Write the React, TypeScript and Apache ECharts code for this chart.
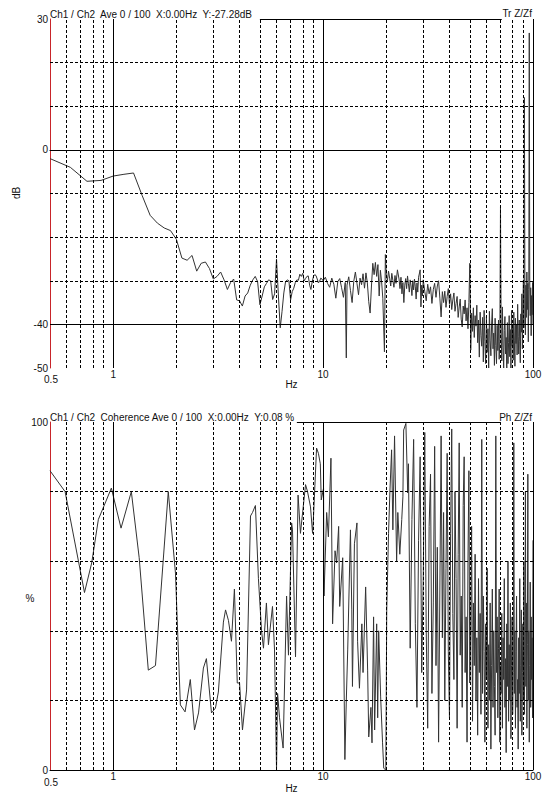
import React, { useEffect, useRef } from "react";
import * as echarts from "echarts";

// ---------- axis ticks / grid values ----------
const freqMajor = [1, 10, 100];
const freqMinor = [0.6, 0.7, 0.8, 0.9, 2, 3, 4, 5, 6, 7, 8, 9, 20, 30, 40, 50, 60, 70, 80, 90];
const dbLabelValues = [30, 0, -40, -50];
const dbSolidLines = [0, -40];
const dbDashedLines = [20, 10, -10, -20, -30];
const pctLabelValues = [100, 0];
const pctDashedLines = [80, 60, 40, 20];
const topBorderTransfer = [5, 71];
const topBorderCoherence = [7.5, 70];

const titleTransfer = "Ch1 / Ch2  Ave 0 / 100  X:0.00Hz  Y:-27.28dB";
const titleCoherence = "Ch1 / Ch2  Coherence Ave 0 / 100  X:0.00Hz  Y:0.08 %";

// ---------- transfer function magnitude [Hz, dB] ----------
const transfer: [number, number][] = [
  [0.5, -2.0], [0.625, -4.0], [0.75, -7.2], [0.875, -7.0], [1.0, -6.0], [1.125, -5.6], [1.25, -5.3],
  [1.375, -10.5], [1.5, -15.0], [1.625, -16.8], [1.75, -17.9], [1.875, -18.5], [2.0, -20.5],
  [2.125, -24.8], [2.25, -25.3], [2.375, -24.2], [2.5, -27.8], [2.625, -26.0], [2.75, -25.7],
  [2.875, -27.2], [3.0, -29.6], [3.125, -29.0], [3.25, -28.0], [3.375, -29.8], [3.5, -32.0],
  [3.625, -30.4], [3.75, -29.6], [3.875, -34.4], [4.0, -34.6], [4.125, -35.8], [4.25, -33.5],
  [4.375, -32.8], [4.5, -31.0], [4.625, -29.8], [4.75, -29.0], [4.875, -30.2], [5.0, -35.5],
  [5.125, -33.5], [5.25, -31.4], [5.375, -30.6], [5.5, -29.8], [5.625, -30.0], [5.75, -34.3],
  [5.875, -33.0], [6.0, -25.0], [6.125, -33.5], [6.25, -40.8], [6.375, -37.0], [6.5, -32.8],
  [6.625, -30.2], [6.75, -29.8], [6.875, -30.0], [7.0, -34.4], [7.125, -32.5], [7.25, -31.7],
  [7.375, -30.4], [7.5, -29.8], [7.625, -29.9], [7.75, -28.5], [7.875, -29.0], [8.0, -28.3],
  [8.125, -30.0], [8.25, -29.5], [8.375, -29.0], [8.5, -28.9], [8.625, -31.0], [8.75, -32.0],
  [8.875, -30.2], [9.0, -29.0], [9.125, -28.6], [9.25, -28.8], [9.375, -29.6], [9.5, -30.5],
  [9.625, -30.1], [9.75, -29.4], [9.875, -29.6], [10.0, -30.0], [10.25, -29.2], [10.5, -30.6],
  [10.75, -31.5], [11.0, -29.4], [11.25, -30.8], [11.5, -34.0], [11.75, -30.2], [12.0, -29.5],
  [12.25, -31.6], [12.5, -33.8], [12.75, -30.4], [12.9, -47.7], [13.0, -31.0], [13.25, -29.1],
  [13.5, -32.2], [13.75, -35.0], [14.0, -30.1], [14.25, -28.0], [14.5, -30.6], [14.75, -33.2],
  [15.0, -29.4], [15.25, -30.9], [15.5, -28.4], [15.75, -31.7], [16.0, -28.2], [16.25, -30.5],
  [16.5, -34.8], [16.75, -37.4], [17.0, -31.2], [17.25, -26.0], [17.5, -28.6], [17.75, -25.8],
  [18.0, -29.0], [18.25, -26.3], [18.5, -33.5], [18.75, -27.6], [19.0, -30.2], [19.25, -34.0],
  [19.6, -46.3], [19.8, -24.0], [20.0, -28.5], [20.25, -30.0], [20.5, -27.8], [20.75, -29.4],
  [21.0, -31.2], [21.25, -28.3], [21.5, -29.9], [21.75, -31.5], [22.0, -28.8], [22.25, -30.6],
  [22.6, -27.5], [23.0, -29.6], [23.25, -31.8], [23.5, -29.2], [23.75, -33.0], [24.0, -30.4],
  [24.25, -35.0], [24.5, -31.0], [24.75, -29.5], [25.0, -31.8], [25.25, -28.9], [25.5, -30.7],
  [25.75, -32.6], [26.0, -29.8], [26.25, -31.2], [26.5, -33.4], [26.75, -30.0], [27.0, -32.1],
  [27.25, -29.6], [27.5, -31.4], [27.75, -34.2], [28.0, -30.5], [28.25, -32.6], [28.5, -29.2],
  [29.0, -27.5], [29.25, -36.0], [29.5, -31.0], [29.75, -33.5], [30.0, -29.8], [30.5, -32.4],
  [31.0, -34.6], [31.5, -30.8], [32.0, -33.0], [32.5, -31.4], [33.0, -35.2], [33.5, -32.0],
  [34.0, -30.6], [34.5, -33.8], [35.0, -31.2], [35.5, -30.0], [36.0, -34.0], [36.5, -38.3],
  [37.0, -32.5], [37.5, -35.0], [38.0, -32.4], [38.5, -36.1], [39.0, -33.6], [39.5, -31.8],
  [40.0, -35.4], [40.5, -33.0], [41.0, -36.6], [41.5, -34.4], [42.0, -32.8], [42.5, -37.0],
  [43.0, -35.2], [43.5, -33.6], [44.0, -38.4], [44.5, -36.0], [45.0, -34.2], [45.5, -38.8],
  [46.0, -40.6], [46.5, -35.8], [47.0, -37.6], [47.5, -34.4], [48.0, -39.2], [48.5, -36.2],
  [49.0, -41.0], [49.5, -35.0], [50.0, -26.0], [50.5, -45.9], [51.0, -37.4], [51.5, -41.6],
  [52.0, -36.2], [52.5, -43.0], [53.0, -38.0], [53.5, -40.4], [54.0, -35.6], [54.5, -44.2],
  [55.0, -39.0], [55.5, -47.5], [56.0, -37.2], [56.5, -42.6], [57.0, -45.0], [57.5, -38.4],
  [58.0, -48.6], [58.5, -36.8], [59.0, -44.0], [59.5, -49.0], [60.0, -38.2], [60.5, -46.4],
  [61.0, -41.0], [61.5, -50.0], [62.0, -37.0], [62.5, -43.8], [63.0, -47.2], [63.5, -40.0],
  [64.0, -36.4], [64.5, -45.6], [65.0, -42.0], [65.5, -49.4], [66.0, -38.6], [66.5, -44.8],
  [67.0, -49.0], [67.5, -40.2], [68.0, -46.0], [68.5, -39.0], [69.0, -48.0], [69.5, -44.0],
  [70.0, -13.0], [70.5, -42.0], [71.0, -48.4], [71.5, -36.0], [72.0, -45.2], [72.5, -50.0],
  [73.0, -41.4], [73.5, -38.2], [74.0, -46.8], [74.5, -43.0], [75.0, -50.0], [75.5, -39.6],
  [76.0, -49.0], [76.5, -44.2], [77.0, -38.0], [77.5, -47.4], [78.0, -41.2], [78.5, -50.0],
  [79.0, -36.8], [79.5, -45.0], [80.0, -40.4], [80.5, -48.2], [81.0, -37.2], [81.5, -43.6],
  [82.0, -49.6], [82.5, -38.6], [83.0, -44.4], [83.5, -40.0], [84.0, -47.0], [84.5, -35.4],
  [85.0, -42.8], [85.5, -46.8], [86.0, -39.0], [86.5, -44.0], [87.0, -48.8], [87.5, -37.6],
  [88.0, -41.8], [88.5, -33.0], [89.0, -45.6], [89.5, -36.0], [90.0, -30.0], [90.5, -40.8],
  [91.0, 12.0], [91.5, -34.0], [92.0, -42.4], [92.5, -31.0], [93.0, -38.4], [93.5, -28.0],
  [94.0, -36.6], [94.5, -30.6], [95.0, -44.0], [95.5, -32.0], [96.0, 26.8], [96.5, -30.0],
  [97.0, -38.0], [97.5, -31.6], [98.0, -42.6], [98.5, -33.4], [99.0, -37.8], [99.5, -30.4],
  [100.0, -40.0],
];

// ---------- coherence [Hz, %] ----------
const coherence: [number, number][] = [
  [0.5, 86], [0.59, 80], [0.73, 51], [0.79, 59.5], [0.85, 72], [0.9, 75.6], [0.98, 81],
  [1.09, 69.5], [1.22, 80], [1.33, 61], [1.47, 28.7], [1.59, 30], [1.83, 80], [1.98, 56.6],
  [2.09, 18.7], [2.2, 16.7], [2.33, 26], [2.44, 11.5], [2.55, 16.4], [2.69, 29.3], [2.78, 32],
  [2.94, 16.4], [3.07, 17.8], [3.17, 22.4], [3.35, 42.5], [3.43, 46], [3.54, 43], [3.66, 37],
  [3.78, 52], [3.9, 25], [4.0, 25], [4.13, 11.5], [4.32, 23], [4.51, 73], [4.61, 74], [4.76, 76],
  [4.92, 55], [5.09, 40], [5.2, 35], [5.37, 48], [5.49, 36], [5.74, 47], [5.87, 34.5], [6.0, 0],
  [6.07, 22], [6.2, 15], [6.45, 6.3], [6.7, 50], [6.84, 33], [7.08, 71], [7.15, 69], [7.39, 32.5],
  [7.6, 79], [7.8, 68], [8.25, 82], [8.43, 80], [8.71, 75.6], [8.91, 68], [9.0, 72.7], [9.31, 92.5],
  [9.5, 91], [9.7, 88], [9.8, 77.6], [10.05, 81], [10.1, 50], [10.4, 74], [10.6, 67], [10.9, 89.6],
  [11.1, 42], [11.4, 63], [11.6, 59.5], [11.86, 70], [12.0, 47], [12.4, 61], [12.7, 3], [12.9, 20],
  [13.1, 34.5], [13.5, 69], [13.7, 46], [13.8, 24], [14.1, 65], [14.5, 71], [14.6, 37], [14.9, 23.5],
  [15.3, 42], [15.5, 28], [15.95, 52.6], [16.3, 28.7], [16.5, 9.5], [16.9, 18], [17.1, 7.8],
  [17.4, 44], [17.6, 11.5], [18.0, 42], [18.2, 15], [18.4, 40], [18.8, 21], [19.2, 7.8],
  [19.45, 0.5], [19.9, 0], [20.1, 46], [20.5, 68], [20.8, 79.6], [21.2, 92], [21.5, 69], [21.9, 96],
  [22.4, 60], [22.7, 74], [23.2, 62], [23.7, 72], [24.0, 78.5], [24.2, 97.7], [24.8, 99.6],
  [25.3, 79.6], [25.5, 88], [26.0, 35], [26.5, 72], [27.0, 95], [27.5, 42], [28.0, 18], [28.5, 66],
  [29.0, 90], [29.5, 28], [30.0, 55], [30.5, 97], [31.0, 40], [31.5, 12], [32.0, 70], [32.5, 85],
  [33.0, 22], [33.5, 48], [34.0, 93], [34.5, 30], [35.0, 64], [35.5, 8], [36.0, 52], [36.5, 96],
  [37.0, 38], [37.5, 74], [38.0, 20], [38.5, 58], [39.0, 91], [39.5, 34], [40.0, 15], [40.5, 68],
  [41.0, 98], [41.5, 45], [42.0, 26], [42.5, 80], [43.0, 55], [43.5, 12], [44.0, 62], [44.5, 94],
  [45.0, 33], [45.5, 50], [46.0, 18], [46.5, 76], [47.0, 90], [47.5, 28], [48.0, 44], [48.5, 8],
  [49.0, 60], [49.5, 86], [50.0, 25], [50.5, 40], [51.0, 70], [51.5, 14], [52.0, 48], [52.5, 30],
  [53.0, 62], [53.5, 20], [54.0, 38], [54.5, 10], [55.0, 55], [55.5, 28], [56.0, 45], [56.5, 16],
  [57.0, 95], [57.5, 22], [58.0, 50], [58.5, 34], [59.0, 8], [59.5, 42], [60.0, 26], [60.5, 58],
  [61.0, 12], [61.5, 36], [62.0, 20], [62.5, 48], [63.0, 6], [63.5, 30], [64.0, 52], [64.5, 18],
  [65.0, 40], [65.5, 24], [66.0, 10], [66.5, 96], [67.0, 28], [67.5, 44], [68.0, 15], [68.5, 35],
  [69.0, 52], [69.5, 8], [70.0, 30], [70.5, 22], [71.0, 45], [71.5, 12], [72.0, 38], [72.5, 26],
  [73.0, 55], [73.5, 18], [74.0, 32], [74.5, 5], [75.0, 42], [75.5, 24], [76.0, 60], [76.5, 14],
  [77.0, 36], [77.5, 20], [78.0, 48], [78.5, 9], [79.0, 30], [79.5, 44], [80.0, 16], [80.5, 28],
  [81.0, 94], [81.5, 22], [82.0, 40], [82.5, 12], [83.0, 34], [83.5, 50], [84.0, 18], [84.5, 26],
  [85.0, 6], [85.5, 38], [86.0, 22], [86.5, 55], [87.0, 14], [87.5, 30], [88.0, 46], [88.5, 10],
  [89.0, 28], [89.5, 42], [90.0, 20], [90.5, 60], [91.0, 16], [91.5, 35], [92.0, 80], [92.5, 24],
  [93.0, 48], [93.5, 12], [94.0, 36], [94.5, 85], [95.0, 20], [95.5, 40], [96.0, 8], [96.5, 30],
  [97.0, 54], [97.5, 18], [98.0, 44], [98.5, 26], [99.0, 38], [99.5, 15], [100.0, 66],
];

const FONT = '"Liberation Sans", Arial, sans-serif';
const INK = "#111";

function gridMarkLine(dashedH: number[], solidH: number[], topVal: number, border: number[]) {
  const solid = { type: "solid" as const };
  const data: any[] = [
    ...freqMinor.map((f) => ({ xAxis: f })),
    ...freqMajor.map((f) => ({ xAxis: f, lineStyle: solid })),
    ...dashedH.map((v) => ({ yAxis: v })),
    ...solidH.map((v) => ({ yAxis: v, lineStyle: solid })),
    [
      { coord: [border[0], topVal], lineStyle: solid },
      { coord: [border[1], topVal], lineStyle: solid },
    ],
  ];
  return {
    silent: true,
    symbol: ["none", "none"],
    label: { show: false },
    emphasis: { disabled: true },
    lineStyle: { color: "#000", width: 1, type: [3, 2], opacity: 1 },
    data,
  };
}

function xAxisFor(gridIndex: number, nameGap: number) {
  return {
    type: "log",
    logBase: 10,
    gridIndex,
    min: 0.5,
    max: 100,
    name: "Hz",
    nameLocation: "middle",
    nameGap,
    nameTextStyle: { fontSize: 10, fontFamily: FONT, color: INK },
    axisLine: { show: true, lineStyle: { color: "#000", width: 1 } },
    axisTick: { show: false },
    splitLine: { show: false },
    minorSplitLine: { show: false },
    axisLabel: {
      fontSize: 10,
      fontFamily: FONT,
      color: INK,
      margin: 1,
      showMinLabel: false,
      formatter: (v: number) => {
        const r = Math.round(v);
        return freqMajor.includes(r) && Math.abs(v - r) < 1e-6 ? String(r) : "";
      },
    },
  };
}

function yAxisFor(gridIndex: number, min: number, max: number, interval: number, labels: number[]) {
  return {
    type: "value",
    gridIndex,
    min,
    max,
    interval,
    axisLine: { show: true, lineStyle: { color: "#c8252a", width: 1 } },
    axisTick: { show: false },
    splitLine: { show: false },
    axisLabel: {
      fontSize: 10,
      fontFamily: FONT,
      color: INK,
      margin: 2,
      formatter: (v: number) => (labels.includes(v) ? String(v) : ""),
    },
  };
}

const txt = (x: number, y: number, text: string, align = "left", extra: any = {}) => ({
  type: "text",
  x,
  y,
  z: 100,
  silent: true,
  ...extra,
  style: {
    text,
    fontSize: 10,
    fontFamily: FONT,
    fill: INK,
    align,
    verticalAlign: "middle",
  },
});

export default function App() {
  const ref = useRef<HTMLDivElement>(null);

  useEffect(() => {
    document.body.style.margin = "0";
    const chart = echarts.init(ref.current!, undefined, { renderer: "svg" });
    const option: any = {
      animation: false,
      backgroundColor: "#ffffff",
      grid: [
        { left: 50, top: 19, width: 483, height: 349 },
        { left: 50, top: 422, width: 483, height: 348 },
      ],
      xAxis: [xAxisFor(0, 11), xAxisFor(1, 13)],
      yAxis: [
        yAxisFor(0, -50, 30, 10, dbLabelValues),
        yAxisFor(1, 0, 100, 20, pctLabelValues),
      ],
      series: [
        {
          type: "line",
          name: "Transfer",
          xAxisIndex: 0,
          yAxisIndex: 0,
          data: transfer,
          showSymbol: false,
          symbol: "none",
          clip: true,
          lineStyle: { color: "#333", width: 1 },
          emphasis: { disabled: true },
          markLine: gridMarkLine(dbDashedLines, dbSolidLines, 30, topBorderTransfer),
        },
        {
          type: "line",
          name: "Coherence",
          xAxisIndex: 1,
          yAxisIndex: 1,
          data: coherence,
          showSymbol: false,
          symbol: "none",
          clip: true,
          lineStyle: { color: "#333", width: 1 },
          emphasis: { disabled: true },
          markLine: gridMarkLine(pctDashedLines, [], 100, topBorderCoherence),
        },
      ],
      graphic: [
        txt(50, 14, titleTransfer),
        txt(532, 13, "Tr Z/Zf", "right"),
        txt(50, 417, titleCoherence),
        txt(532, 417, "Ph Z/Zf", "right"),
        txt(16, 193, "dB", "center", { rotation: Math.PI / 2 }),
        txt(30, 598, "%", "center"),
        txt(51, 379, "0.5", "center"),
        txt(51, 782, "0.5", "center"),
      ],
    };
    chart.setOption(option);
    return () => chart.dispose();
  }, []);

  return (
    <div
      ref={ref}
      style={{ position: "absolute", left: 0, top: 0, width: 551, height: 796, background: "#fff" }}
    />
  );
}
